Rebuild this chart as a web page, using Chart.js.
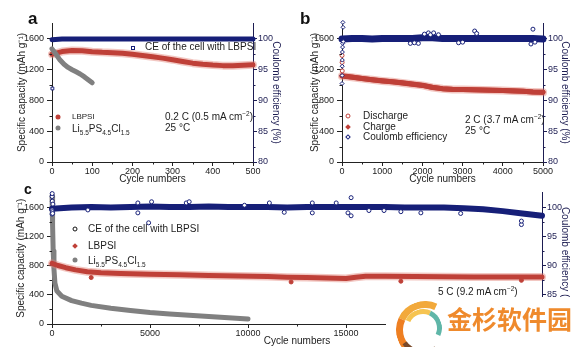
<!DOCTYPE html>
<html lang="en">
<head>
<meta charset="UTF-8" />
<title>Cycling performance</title>
<script src="https://cdn.jsdelivr.net/npm/chart.js"></script>
<style>
  body { margin: 0; background: #fff; }
  #fig { position: relative; width: 586px; height: 347px; overflow: hidden; font-family: "Liberation Sans", Arial, sans-serif; background: #fff; }
  .panel { position: absolute; }
  .txt { position: absolute; font-size: 10px; line-height: 12px; color: #1c1c1c; white-space: nowrap; transform: translateY(-50%); }
  .txt sub, .txt sup { font-size: 6.5px; line-height: 0; }
  .letter { position: absolute; font-weight: bold; color: #111; line-height: 1; }
  .mk { position: absolute; width: 5px; height: 5px; transform: translate(-50%, -50%); box-sizing: border-box; }
  .sq { border: 1px solid #161f78; background: #fff; }
  .dot-red { border-radius: 50%; background: #bf4038; }
  .dot-gray { border-radius: 50%; background: #808080; }
  .ring-red { border-radius: 50%; border: 1px solid #bf4038; background: #fff; }
  .ring-dark { border-radius: 50%; border: 1px solid #111; background: #fff; }
  .dia-red { background: #bf4038; transform: translate(-50%, -50%) rotate(45deg); width: 4px; height: 4px; }
  .dia-navy { border: 1px solid #161f78; background: #fff; transform: translate(-50%, -50%) rotate(45deg); width: 4px; height: 4px; }
  #mark { position: absolute; left: 386px; top: 297px; width: 200px; height: 50px; background: #fff; }
  .arc { position: absolute; border-radius: 50%; border-style: solid; border-color: transparent; }
  #mark .name { position: absolute; left: 61px; top: 6px; font-family: "Noto Sans CJK SC", sans-serif; font-weight: bold; font-size: 25px; line-height: 30px; color: #ef8a2c; }
</style>
</head>
<body>
<div id="fig">
  <div class="panel" style="left:0;top:0;"><canvas id="chartA" width="290" height="185"></canvas></div>
  <div class="panel" style="left:290px;top:0;"><canvas id="chartB" width="296" height="185"></canvas></div>
  <div class="panel" style="left:0;top:184px;"><canvas id="chartC" width="586" height="163"></canvas></div>

  <div class="letter" style="left:28px;top:10px;font-size:17px;">a</div>
  <div class="letter" style="left:300px;top:10px;font-size:17px;">b</div>
  <div class="letter" style="left:24px;top:182px;font-size:14px;">c</div>

  <!-- panel a legend -->
  <div class="mk sq" style="left:133px;top:48px;width:4px;height:4px;"></div>
  <div class="txt" style="left:145px;top:47px;">CE of the cell with LBPSI</div>
  <div class="mk dot-red" style="left:58px;top:117px;"></div>
  <div class="txt" style="left:72px;top:117px;font-size:8px;">LBPSI</div>
  <div class="mk dot-gray" style="left:58px;top:128px;"></div>
  <div class="txt" style="left:72px;top:129px;">Li<sub>5.5</sub>PS<sub>4.5</sub>Cl<sub>1.5</sub></div>
  <div class="txt" style="left:165px;top:117px;">0.2 C (0.5 mA cm<sup>&minus;2</sup>)</div>
  <div class="txt" style="left:165px;top:128px;">25 °C</div>

  <!-- panel b legend -->
  <div class="mk ring-red" style="left:348px;top:116px;"></div>
  <div class="txt" style="left:363px;top:116px;">Discharge</div>
  <div class="mk dia-red" style="left:348px;top:127px;"></div>
  <div class="txt" style="left:363px;top:127px;">Charge</div>
  <div class="mk dia-navy" style="left:348px;top:137px;"></div>
  <div class="txt" style="left:363px;top:137px;">Coulomb efficiency</div>
  <div class="txt" style="left:465px;top:120px;">2 C (3.7 mA cm<sup>&minus;2</sup>)</div>
  <div class="txt" style="left:465px;top:131px;">25 °C</div>

  <!-- panel c legend -->
  <div class="mk ring-dark" style="left:75px;top:229px;"></div>
  <div class="txt" style="left:88px;top:229px;">CE of the cell with LBPSI</div>
  <div class="mk dia-red" style="left:75px;top:246px;"></div>
  <div class="txt" style="left:88px;top:246px;">LBPSI</div>
  <div class="mk dot-gray" style="left:75px;top:260px;"></div>
  <div class="txt" style="left:88px;top:261px;">Li<sub>5.5</sub>PS<sub>4.5</sub>Cl<sub>1.5</sub></div>
  <div class="txt" style="left:438px;top:292px;">5 C (9.2 mA cm<sup>&minus;2</sup>)</div>

  <!-- watermark -->
  <div id="mark">
    <div class="arc" style="left:10px;top:4px;width:44px;height:44px;border-width:7px;border-top-color:#f2a93b;border-left-color:#ee7f22;transform:rotate(-20deg);"></div>
    <div class="arc" style="left:18px;top:12px;width:28px;height:28px;border-width:5px;border-right-color:#5fb6a8;border-top-color:#f6c451;transform:rotate(-20deg);"></div>
    <div class="arc" style="left:12px;top:8px;width:40px;height:40px;border-width:5px;border-bottom-color:#7a4a2a;transform:rotate(10deg);"></div>
    <div class="name">金杉软件园</div>
  </div>
</div>

<script>
  // ---- panel a : 0.2 C, 500 cycles ----
  const aCycles = [0, 25, 50, 75, 100, 125, 150, 175, 200, 225, 250, 275, 300, 325, 350, 375, 400, 425, 450, 475, 500];
  const aLbpsi = [1395, 1430, 1445, 1440, 1428, 1420, 1415, 1408, 1395, 1380, 1362, 1345, 1325, 1302, 1280, 1265, 1255, 1248, 1245, 1252, 1258];
  const aCe = [99.8, 99.9, 99.9, 99.9, 99.9, 99.9, 99.9, 99.9, 99.9, 99.9, 99.9, 99.9, 99.9, 99.9, 99.9, 99.9, 99.9, 99.9, 99.9, 99.9, 99.9];
  const aLiCycles = [0, 5, 10, 20, 30, 40, 50, 60, 70, 80, 90, 100];
  const aLi = [1465, 1430, 1395, 1320, 1265, 1225, 1195, 1168, 1140, 1105, 1065, 1025];
  const aCeFirstCycle = [1];
  const aCeFirst = [91.9];

  // ---- panel b : 2 C, 5000 cycles ----
  const bCycles = [0, 250, 500, 750, 1000, 1250, 1500, 1750, 2000, 2250, 2500, 2750, 3000, 3250, 3500, 3750, 4000, 4250, 4500, 4750, 5000];
  const bDischarge = [1112, 1098, 1080, 1064, 1050, 1038, 1024, 1008, 992, 965, 948, 940, 938, 936, 932, 929, 926, 921, 915, 905, 902];
  const bCharge = [1116, 1100, 1082, 1066, 1052, 1040, 1026, 1010, 994, 968, 950, 942, 939, 937, 933, 930, 927, 922, 916, 907, 903];
  const bCe = [99.9, 100.0, 100.0, 99.9, 100.0, 100.0, 100.0, 100.0, 100.1, 100.1, 100.0, 100.0, 100.0, 100.0, 100.0, 100.0, 100.0, 100.0, 100.0, 100.0, 99.9];
  const bCeEarlyCycles = [1, 3, 5, 8, 10, 14, 18, 22, 26, 30];
  const bCeEarly = [92.7, 94.0, 95.5, 96.5, 97.8, 98.6, 99.2, 102.6, 101.8, 99.5];
  const bRedEarlyCycles = [1, 3, 6];
  const bRedEarly = [1380, 1290, 1180];
  const bCeOutCycles = [1700, 1800, 1900, 2050, 2150, 2200, 2280, 2400, 2900, 3000, 3300, 3350, 4700, 4750, 4800];
  const bCeOut = [99.2, 99.3, 99.2, 100.7, 100.9, 100.6, 100.9, 100.6, 99.3, 99.4, 101.2, 100.8, 99.1, 101.5, 99.4];

  // ---- panel c : 5 C, 25000 cycles ----
  const cCycles = [0, 1000, 2000, 3000, 4000, 5000, 6000, 7000, 8000, 9000, 10000, 11000, 12000, 13000, 14000, 15000, 16000, 17000, 18000, 19000, 20000, 21000, 22000, 23000, 24000, 25000];
  const cCe = [99.7, 99.9, 100.0, 99.9, 100.0, 100.1, 100.0, 100.0, 100.1, 100.0, 100.0, 100.0, 99.9, 100.0, 100.0, 100.0, 100.0, 100.0, 99.9, 99.9, 99.9, 99.8, 99.6, 99.3, 98.9, 98.5];
  const cLbpsiCycles = [0, 300, 700, 1200, 1800, 2500, 3500, 5000, 6500, 8000, 9500, 11000, 12000, 13000, 14000, 15000, 15500, 16000, 17000, 18500, 20000, 21500, 23000, 25000];
  const cLbpsi = [830, 800, 770, 740, 715, 700, 690, 680, 672, 665, 658, 650, 640, 635, 630, 622, 640, 652, 652, 650, 646, 644, 642, 642];
  const cLbpsiOutCycles = [2000, 12200, 17800, 23950];
  const cLbpsiOut = [635, 575, 585, 597];
  const cLiCycles = [0, 30, 60, 100, 150, 250, 500, 1000, 1500, 2000, 3000, 4000, 5000, 6000, 7000, 8000, 9000, 10000];
  const cLi = [1750, 1350, 1000, 750, 560, 450, 380, 320, 285, 255, 215, 185, 158, 138, 120, 103, 85, 68];
  const cCeEarlyCycles = [1, 3, 6, 10, 15, 20, 30, 45];
  const cCeEarly = [98.8, 99.5, 101.8, 102.3, 101.0, 99.2, 98.9, 100.5];
  const cCeOutCycles = [1830, 4380, 4380, 5080, 4930, 6850, 7000, 9820, 11090, 11850, 13280, 13280, 14500, 15260, 15260, 15100, 16170, 16940, 17800, 18820, 20850, 23950, 23950];
  const cCeOut = [99.5, 100.7, 99.0, 100.9, 97.3, 100.7, 100.9, 100.3, 100.7, 99.1, 100.7, 99.0, 100.7, 101.6, 98.5, 99.0, 99.4, 99.4, 99.2, 99.0, 98.9, 97.0, 97.6];

  const navy = '#161f78';
  const red = '#bf4038';
  const redGlow = 'rgba(226, 130, 120, 0.45)';
  const gray = '#808080';
  const ink = '#222';
  const navyInk = '#1d1d52';
  const family = '"Liberation Sans", Arial, sans-serif';

  function pts(xs, ys) {
    return xs.map((x, i) => ({ x: x, y: ys[i] }));
  }

  function band(xs, ys, color, width, axis) {
    return {
      data: pts(xs, ys), yAxisID: axis, showLine: true,
      borderColor: color, borderWidth: width, pointRadius: 0,
      borderJoinStyle: 'round', borderCapStyle: 'round', clip: false
    };
  }

  function marks(xs, ys, style, color, fill, radius, axis) {
    return {
      data: pts(xs, ys), yAxisID: axis, showLine: false,
      pointStyle: style, pointRadius: radius, borderColor: color,
      backgroundColor: fill, borderWidth: 1, clip: false
    };
  }

  const plain = v => String(v);

  // short ticks half way between the labelled ones
  const minorTicks = {
    id: 'minorTicks',
    afterDraw(chart) {
      const ctx = chart.ctx;
      ctx.save();
      ctx.lineWidth = 1;
      Object.values(chart.scales).forEach(s => {
        const t = s.ticks;
        ctx.strokeStyle = s.options.border.color;
        for (let i = 0; i < t.length - 1; i++) {
          const mid = (t[i].value + t[i + 1].value) / 2;
          const p = Math.round(s.getPixelForValue(mid)) + 0.5;
          ctx.beginPath();
          if (s.axis === 'x') {
            ctx.moveTo(p, s.top); ctx.lineTo(p, s.top + 2.5);
          } else if (s.position === 'left') {
            ctx.moveTo(s.right, p); ctx.lineTo(s.right - 2.5, p);
          } else {
            ctx.moveTo(s.left, p); ctx.lineTo(s.left + 2.5, p);
          }
          ctx.stroke();
        }
      });
      ctx.restore();
    }
  };

  function scales(p) {
    return {
      x: {
        type: 'linear', min: 0, max: p.xMax,
        afterFit: s => { s.height = 23; },
        ticks: { stepSize: p.xStep, callback: plain, color: ink, font: { family: family, size: 9 }, padding: 0, maxRotation: 0 },
        grid: { drawOnChartArea: false, tickLength: 4, color: ink },
        border: { color: ink },
        title: { display: true, text: 'Cycle numbers', color: ink, font: { family: family, size: 10 }, padding: { top: 0, bottom: 0 } }
      },
      y: {
        position: 'left', min: 0, max: 1800,
        afterFit: s => { s.width = 52; },
        ticks: { stepSize: 400, includeBounds: false, callback: plain, color: ink, font: { family: family, size: 9 }, padding: 3 },
        grid: { drawOnChartArea: false, tickLength: 5, color: ink },
        border: { color: ink },
        title: { display: true, text: 'Specific capacity (mAh g⁻¹)', color: ink, font: { family: family, size: 10 }, padding: { top: p.leftPad, bottom: 0 } }
      },
      y2: {
        position: 'right', min: 80, max: 102.5,
        afterFit: s => { s.width = p.rightW; },
        ticks: { stepSize: 5, includeBounds: false, callback: plain, color: navyInk, font: { family: family, size: 9 }, padding: 1 },
        grid: { drawOnChartArea: false, tickLength: 4, color: navyInk },
        border: { color: navyInk },
        title: { display: true, text: 'Coulomb efficiency (%)', color: navyInk, font: { family: family, size: 10 }, padding: { top: p.rightPad, bottom: 0 } }
      }
    };
  }

  function opts(p) {
    return {
      responsive: false,
      animation: false,
      layout: { padding: { top: p.top, left: 0, right: 0, bottom: 0 } },
      plugins: { legend: { display: false }, tooltip: { enabled: false } },
      scales: scales(p)
    };
  }

  new Chart(document.getElementById('chartA'), {
    type: 'scatter',
    data: {
      datasets: [
        band(aLiCycles, aLi, gray, 5, 'y'),
        band(aCycles, aLbpsi, red, 5, 'y'),
        band(aCycles, aLbpsi, redGlow, 8, 'y'),
        band(aCycles, aCe, navy, 5, 'y2'),
        marks(aCeFirstCycle, aCeFirst, 'rect', navy, '#fff', 2, 'y2')
      ]
    },
    options: opts({ top: 23, xMax: 500, xStep: 100, rightW: 37, leftPad: 16, rightPad: 8 }),
    plugins: [minorTicks]
  });

  new Chart(document.getElementById('chartB'), {
    type: 'scatter',
    data: {
      datasets: [
        marks(bCeOutCycles, bCeOut, 'circle', navy, '#fff', 2, 'y2'),
        marks(bCeEarlyCycles, bCeEarly, 'rectRot', navy, '#fff', 2, 'y2'),
        band(bCycles, bCe, navy, 7, 'y2'),
        marks(bRedEarlyCycles, bRedEarly, 'circle', red, '#fff', 2, 'y'),
        band(bCycles, bCharge, red, 5, 'y'),
        band(bCycles, bDischarge, red, 5, 'y'),
        band(bCycles, bDischarge, redGlow, 8, 'y')
      ]
    },
    options: opts({ top: 23, xMax: 5000, xStep: 1000, rightW: 43, leftPad: 19, rightPad: 15 }),
    plugins: [minorTicks]
  });

  new Chart(document.getElementById('chartC'), {
    type: 'scatter',
    data: {
      datasets: [
        marks(cCeOutCycles, cCeOut, 'circle', navy, '#fff', 2, 'y2'),
        marks(cCeEarlyCycles, cCeEarly, 'circle', navy, '#fff', 2, 'y2'),
        band(cCycles, cCe, navy, 6, 'y2'),
        marks(cLbpsiOutCycles, cLbpsiOut, 'circle', red, red, 2, 'y'),
        band(cLbpsiCycles, cLbpsi, red, 5, 'y'),
        band(cLbpsiCycles, cLbpsi, redGlow, 8, 'y'),
        band(cLiCycles, cLi, gray, 5, 'y')
      ]
    },
    options: opts({ top: 8, xMax: 25000, xStep: 5000, rightW: 44, leftPad: 15, rightPad: 15 }),
    plugins: [minorTicks]
  });
</script>
</body>
</html>
